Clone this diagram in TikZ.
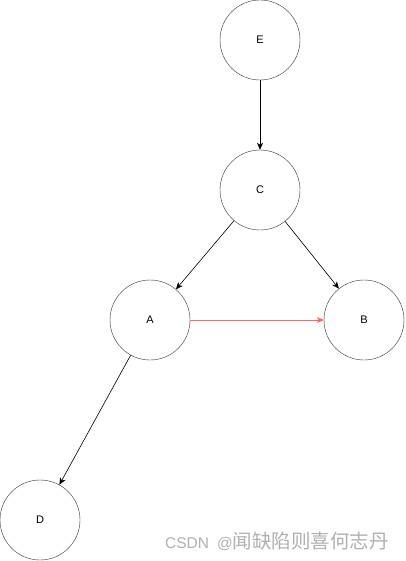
\documentclass[tikz,border=0pt]{standalone}
\usepackage{fontspec}
\setmainfont{Liberation Sans}
\newfontfamily\cjk{Noto Sans CJK SC}
\usetikzlibrary{arrows.meta, positioning}
\definecolor{edgered}{HTML}{FF6666}
\definecolor{markgray}{HTML}{B0B0B0}

\begin{document}
\begin{tikzpicture}[
      x=1pt, y=-1pt,
      vertex/.style={draw, circle, thin, black!80, text=black, minimum size=80pt, inner sep=0pt, font=\fontsize{11}{13}\selectfont},
      arr/.style={-{Stealth[length=7pt, width=6pt, inset=2pt]}, semithick},
    ]
    \useasboundingbox (0,0) rectangle (405,561);
    % --- the vertices -------------------------------------------------
    \node[vertex] (E) at (260,40) {E};
    \node[vertex] (C) at (260,190) {C};
    \node[vertex] (A) at (150,320) {A};
    \node[vertex] (B) at (364,320) {B};
    \node[vertex] (D) at (40,520) {D};
    % --- directed edges -----------------------------------------------
    \draw[arr] (E) -- (C);
    \draw[arr] (C) -- (A);
    \draw[arr] (C) -- (B);
    \draw[arr] (A) -- (D);
    \draw[arr, edgered] (A) -- (B);
    % --- watermark ----------------------------------------------------
    \node[anchor=base east, text=markgray, font=\fontsize{15.5}{17}\selectfont, inner sep=0pt] (mark) at (389,548)
      {CSDN\hspace{8pt}@{\cjk\fontsize{19.5}{21}\selectfont 闻缺陷则喜何志丹}};
  \end{tikzpicture}
\end{document}
